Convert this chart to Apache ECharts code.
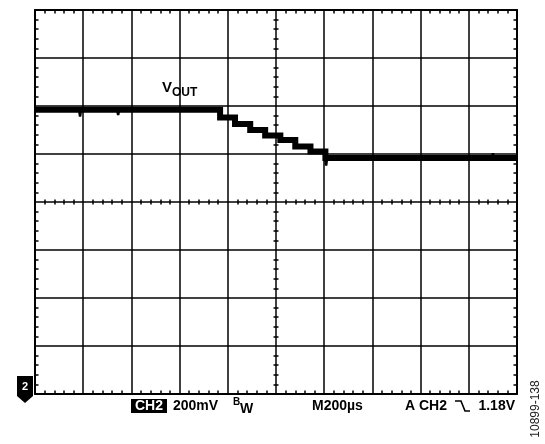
<!DOCTYPE html>
<html><head><meta charset="utf-8">
<script src="https://cdn.jsdelivr.net/npm/echarts@6/dist/echarts.min.js"></script>
<style>html,body{margin:0;padding:0;background:#fff}#c{width:545px;height:444px}</style>
</head><body><div id="c"></div>
<script>
// Oscilloscope: 200 µs/div horizontally (10 div), 200 mV/div vertically (8 div), ground at bottom
const xMin = 0, xMax = 2000, xInterval = 200;      // µs
const yMin = 0, yMax = 1.6, yInterval = 0.2;        // V
// VOUT staircase (start time of each level, µs; level, V)
const stepTimes  = [0,     768,   830,   893,   955,   1018,  1080,  1143,  1205,  2000];
const stepLevels = [1.184, 1.152, 1.125, 1.100, 1.077, 1.058, 1.031, 1.010, 0.983, 0.983];
// noise glitches visible on the trace (time µs, peak V)
const glitchTimes  = [187,   345,   1208,  1900];
const glitchPeaks  = [1.156, 1.162, 0.952, 1.003];

const FONT = '"Liberation Sans", Arial, sans-serif';
const chart = echarts.init(document.getElementById('c'), null, {renderer: 'canvas'});

function xAx(pos, offset, inside, main) {
  return {
    type: 'value', position: pos, offset: offset, min: xMin, max: xMax, interval: xInterval,
    axisLine: {show: main, onZero: false, lineStyle: {color: '#000', width: 2}},
    axisTick: {show: false, inside: inside},
    minorTick: {show: true, splitNumber: 5, length: main ? 3.5 : 2.5, lineStyle: {color: '#000', width: 1.5}},
    axisLabel: {show: false},
    splitLine: {show: pos === 'bottom' && main, lineStyle: {color: '#000', width: 1.5}}
  };
}
function yAx(pos, offset, inside, main) {
  return {
    type: 'value', position: pos, offset: offset, min: yMin, max: yMax, interval: yInterval,
    axisLine: {show: main, onZero: false, lineStyle: {color: '#000', width: 2}},
    axisTick: {show: false, inside: inside},
    minorTick: {show: true, splitNumber: 5, length: main ? 3.5 : 2.5, lineStyle: {color: '#000', width: 1.5}},
    axisLabel: {show: false},
    splitLine: {show: pos === 'left' && main, lineStyle: {color: '#000', width: 1.5}}
  };
}

const gl = 35, gt = 10, gw = 482, gh = 384;

// level in force at time t
function levelAt(t) {
  let v = stepLevels[0];
  for (let i = 0; i < stepTimes.length; i++) if (stepTimes[i] <= t) v = stepLevels[i];
  return v;
}
const glitchSeries = glitchTimes.map((t, i) => ({
  type: 'line', symbol: 'none', xAxisIndex: 0, yAxisIndex: 0, z: 5,
  data: [[t - 4, levelAt(t)], [t, glitchPeaks[i]], [t + 4, levelAt(t)]],
  lineStyle: {color: '#000', width: 2.5}
}));

chart.setOption({
  animation: false,
  backgroundColor: '#fff',
  grid: {left: gl, top: gt, width: gw, height: gh, show: false},
  xAxis: [
    xAx('bottom', 0, true, true),
    xAx('top', 0, true, true),
    xAx('bottom', -gh / 2, true, false),
    xAx('bottom', -gh / 2, false, false)
  ],
  yAxis: [
    yAx('left', 0, true, true),
    yAx('right', 0, true, true),
    yAx('left', -gw / 2, true, false),
    yAx('left', -gw / 2, false, false)
  ],
  series: [
    {
      type: 'line', step: 'end', symbol: 'none', xAxisIndex: 0, yAxisIndex: 0,
      data: stepTimes.map((t, i) => [t, stepLevels[i]]),
      lineStyle: {color: '#000', width: 6, join: 'miter'}, z: 5
    }
  ].concat(glitchSeries),
  graphic: [
    {type: 'text', x: 162, y: 95, style: {text: 'V', font: 'bold 15px ' + FONT, fill: '#000', verticalAlign: 'bottom'}},
    {type: 'text', x: 172, y: 99, style: {text: 'OUT', font: 'bold 12px ' + FONT, fill: '#000', verticalAlign: 'bottom'}},
    {type: 'polygon', shape: {points: [[17, 376], [33, 376], [33, 396], [25, 403], [17, 396]]}, style: {fill: '#000'}},
    {type: 'text', x: 25, y: 387, style: {text: '2', font: 'bold 11px ' + FONT, fill: '#fff', align: 'center', verticalAlign: 'middle'}},
    {type: 'rect', shape: {x: 131, y: 399, width: 36, height: 14}, style: {fill: '#000'}},
    {type: 'text', x: 149, y: 406.5, style: {text: 'CH2', font: 'bold 14px ' + FONT, fill: '#fff', align: 'center', verticalAlign: 'middle'}},
    {type: 'text', x: 173, y: 406.5, style: {text: '200mV', font: 'bold 14px ' + FONT, fill: '#000', verticalAlign: 'middle'}},
    {type: 'text', x: 233, y: 402, style: {text: 'B', font: 'bold 10px ' + FONT, fill: '#000', verticalAlign: 'middle'}},
    {type: 'text', x: 240, y: 409.5, style: {text: 'W', font: 'bold 14px ' + FONT, fill: '#000', verticalAlign: 'middle'}},
    {type: 'text', x: 312, y: 406.5, style: {text: 'M200µs', font: 'bold 14px ' + FONT, fill: '#000', verticalAlign: 'middle'}},
    {type: 'text', x: 405, y: 406.5, style: {text: 'A CH2', font: 'bold 14px ' + FONT, fill: '#000', verticalAlign: 'middle'}},
    {type: 'polyline', shape: {points: [[455, 401], [461, 401], [465, 411], [470, 411]]}, style: {stroke: '#000', lineWidth: 1.6, fill: null}},
    {type: 'text', x: 515, y: 406.5, style: {text: '1.18V', font: 'bold 14px ' + FONT, fill: '#000', align: 'right', verticalAlign: 'middle'}},
    {type: 'text', x: 536, y: 409, rotation: Math.PI / 2, style: {text: '10899-138', font: '12px ' + FONT, fill: '#222', align: 'center', verticalAlign: 'middle'}}
  ]
});
</script>
</body></html>
